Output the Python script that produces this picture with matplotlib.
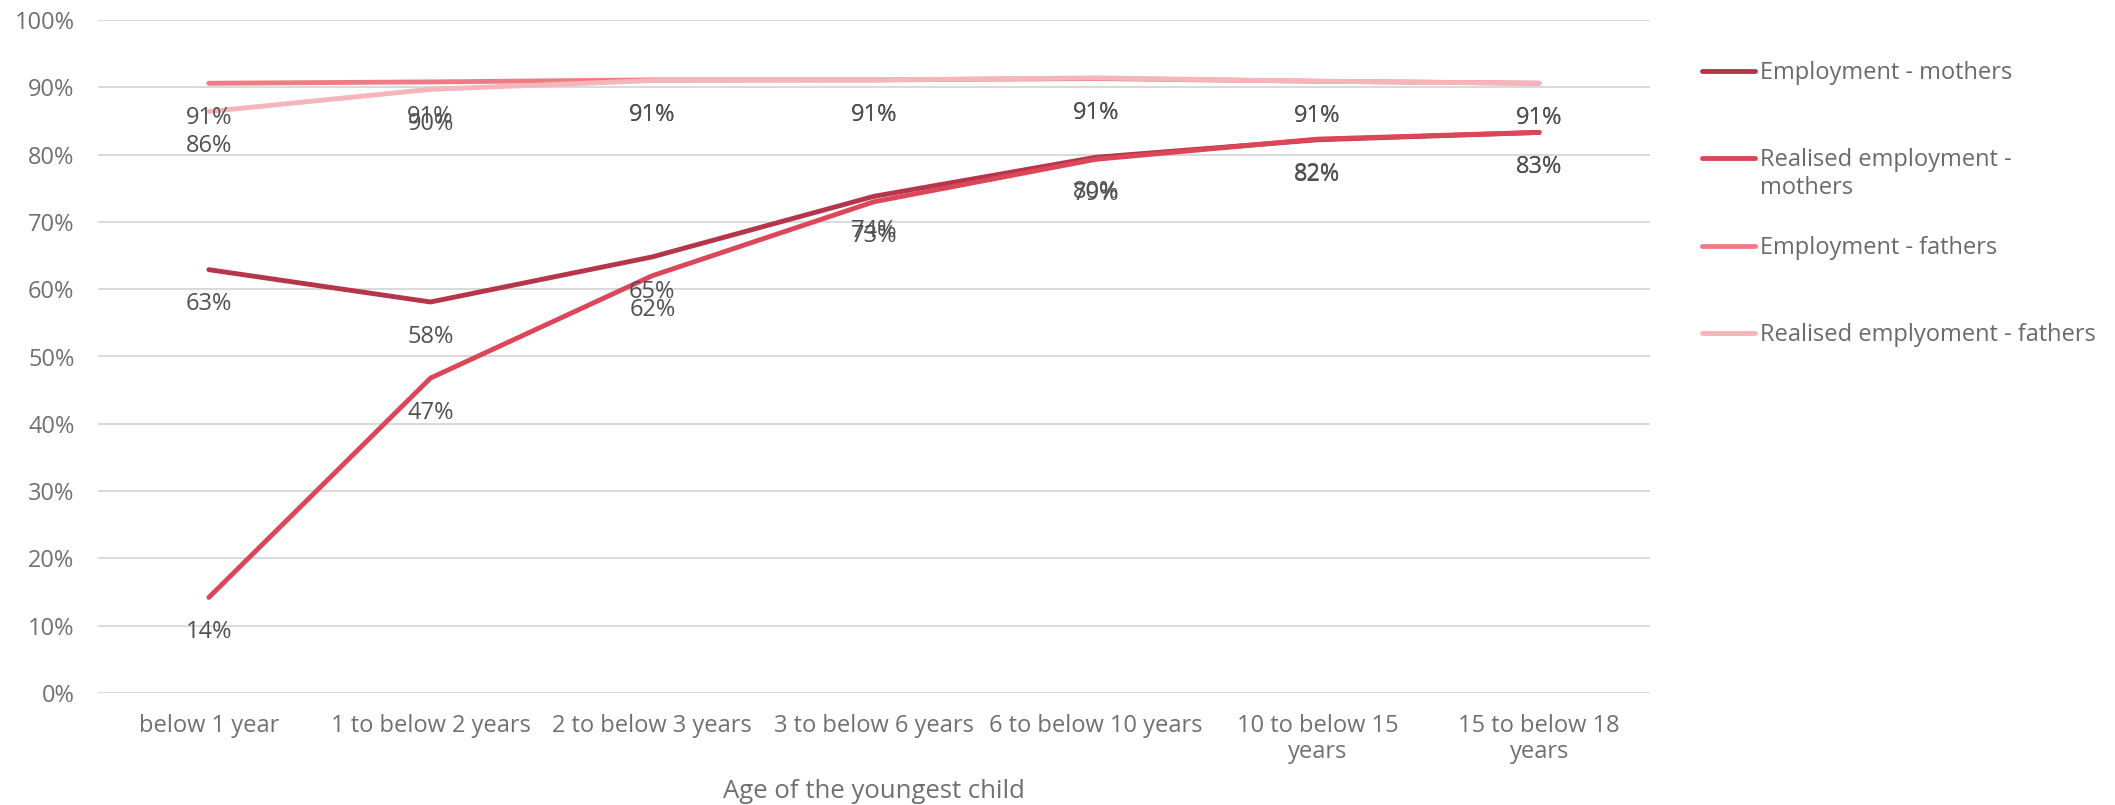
import matplotlib
matplotlib.use("Agg")
import matplotlib.pyplot as plt
from matplotlib.lines import Line2D

plt.rcParams['font.family'] = ['Open Sans', 'DejaVu Sans']

# --- data -----------------------------------------------------------------
age_groups = ["below 1 year", "1 to below 2 years", "2 to below 3 years",
              "3 to below 6 years", "6 to below 10 years",
              "10 to below 15\nyears", "15 to below 18\nyears"]

series_names = ["Employment - mothers", "Realised employment -\nmothers",
                "Employment - fathers", "Realised emplyoment - fathers"]

employment_mothers = [62.9, 58.1, 64.8, 73.8, 79.6, 82.2, 83.3]
realised_mothers = [14.2, 46.8, 62.0, 73.0, 79.3, 82.3, 83.3]
employment_fathers = [90.6, 90.8, 91.1, 91.1, 91.3, 90.9, 90.6]
realised_fathers = [86.4, 89.7, 91.0, 91.1, 91.4, 90.9, 90.6]

y_ticks = [0, 10, 20, 30, 40, 50, 60, 70, 80, 90, 100]

colors = ["#B5364A", "#DC4659", "#EE7C87", "#F5B5BA"]

# --- figure ---------------------------------------------------------------
W, H = 2115, 805
fig = plt.figure(figsize=(W / 100, H / 100), dpi=100)
ax = fig.add_axes([98 / W, 1 - 693 / H, (1650 - 98) / W, (693 - 20) / H])

x = list(range(len(age_groups)))
all_series = [employment_mothers, realised_mothers, employment_fathers, realised_fathers]

for vals, col in zip(all_series, colors):
    ax.plot(x, vals, color=col, lw=3.5, solid_capstyle='round',
            solid_joinstyle='round', zorder=3)

# value labels beneath each point
for vals in all_series:
    for xi, v in zip(x, vals):
        ax.annotate(f"{v:.0f}%", (xi, v), xytext=(0, -25),
                    textcoords='offset points', ha='center', va='center',
                    fontsize=17, color='#505050', zorder=4)

ax.set_xlim(-0.5, len(age_groups) - 0.5)
ax.set_ylim(0, 100)
ax.set_yticks(y_ticks)
ax.set_yticklabels([f"{t}%" for t in y_ticks])
ax.set_xticks(x)
ax.set_xticklabels(age_groups, linespacing=1.12)
ax.yaxis.grid(True, color='#D9D9D9', lw=1.4)
ax.set_axisbelow(True)
for s in ax.spines.values():
    s.set_visible(False)
ax.tick_params(axis='both', length=0, labelsize=17, colors='#707070')
ax.tick_params(axis='y', pad=17)
ax.tick_params(axis='x', pad=15)
ax.set_xlabel("Age of the youngest child", fontsize=18.5, color='#707070',
              labelpad=11)

# --- legend on the right --------------------------------------------------
legend_y = [71, 158, 246, 333]
line_step = 28
for name, col, yp in zip(series_names, colors, legend_y):
    yf = 1 - yp / H
    fig.add_artist(Line2D([1702 / W, 1755 / W], [yf, yf], color=col, lw=3.5,
                          solid_capstyle='round', transform=fig.transFigure))
    for i, part in enumerate(name.split("\n")):
        fig.text(1760 / W, 1 - (yp + 2 + i * line_step) / H, part, ha='left',
                 va='center', fontsize=17, color='#6A6A6A',
                 transform=fig.transFigure)

fig.savefig("out.png", dpi=100)
